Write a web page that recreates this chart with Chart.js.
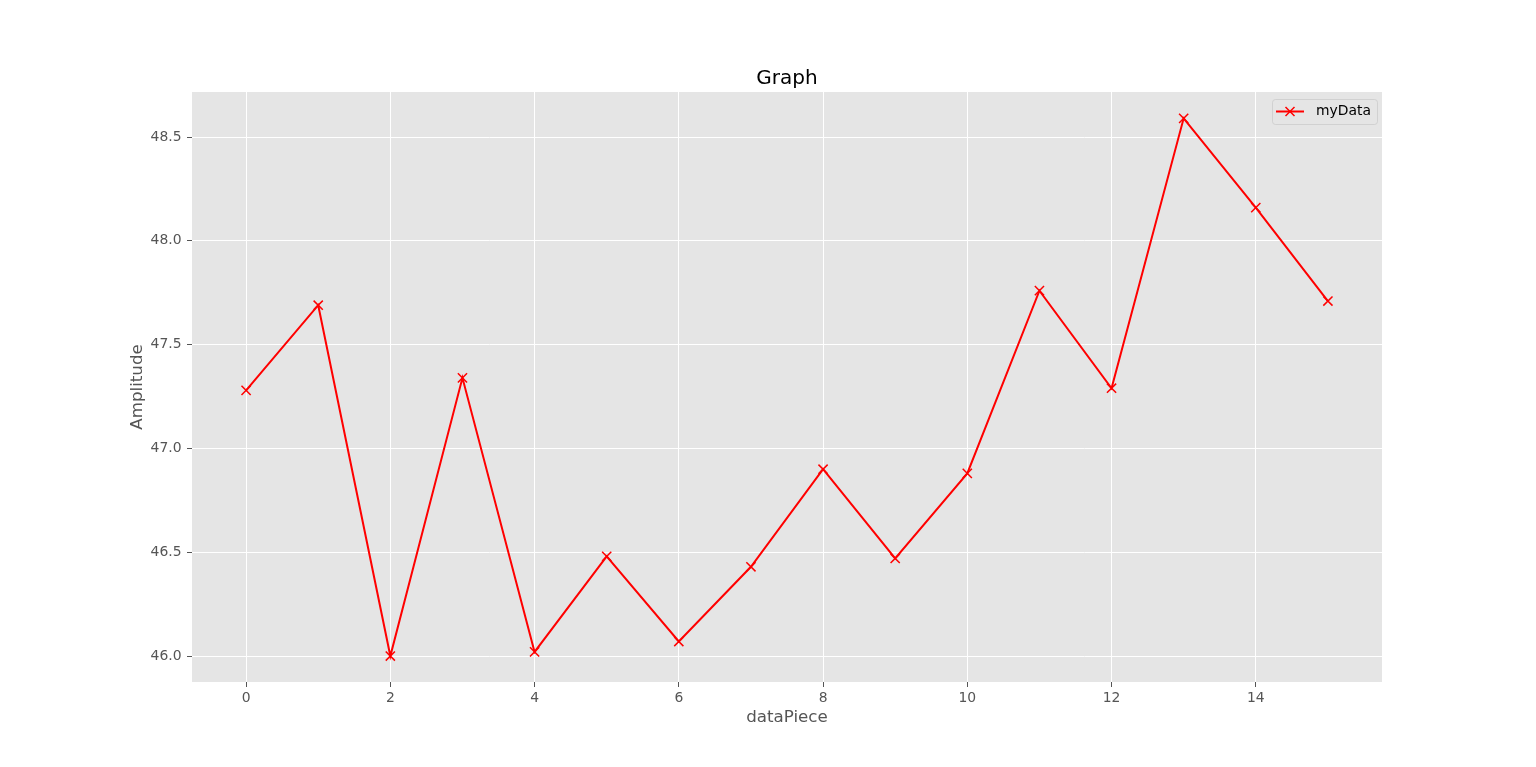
<!DOCTYPE html>
<html>
<head>
<meta charset="utf-8">
<title>Graph</title>
<script src="https://cdn.jsdelivr.net/npm/chart.js@4.4.0/dist/chart.umd.min.js"></script>
<style>
  html, body { margin: 0; padding: 0; background: #ffffff; }
  #wrap { width: 1536px; height: 767px; }
</style>
</head>
<body>
<div id="wrap"><canvas id="myChart" width="1536" height="767"></canvas></div>
<script>
// data
var pieces = [0, 1, 2, 3, 4, 5, 6, 7, 8, 9, 10, 11, 12, 13, 14, 15];
var amplitude = [47.28, 47.69, 46.00, 47.34, 46.02, 46.48, 46.07, 46.43,
                 46.90, 46.47, 46.88, 47.76, 47.29, 48.59, 48.16, 47.71];
var xTicks = [0, 2, 4, 6, 8, 10, 12, 14];
var yTicks = [46.0, 46.5, 47.0, 47.5, 48.0, 48.5];

var font = "'DejaVu Sans', sans-serif";

// grey panel behind the plot, ggplot style
var panelBg = {
  id: 'panelBg',
  beforeDraw: function(chart) {
    var a = chart.chartArea, ctx = chart.ctx;
    ctx.save();
    ctx.fillStyle = '#e5e5e5';
    ctx.fillRect(a.left, a.top, a.right - a.left, a.bottom - a.top);
    ctx.restore();
  }
};

// small legend box in the upper right corner of the plot
var cornerLegend = {
  id: 'cornerLegend',
  afterDatasetsDraw: function(chart) {
    var a = chart.chartArea, ctx = chart.ctx;
    var ds = chart.data.datasets[0];
    var w = 105, h = 25;
    var x = a.right - 5 - w, y = a.top + 7;
    ctx.save();
    ctx.beginPath();
    ctx.roundRect(x + 0.5, y + 0.5, w, h, 3);
    ctx.fillStyle = 'rgba(229,229,229,0.8)';
    ctx.fill();
    ctx.strokeStyle = 'rgba(204,204,204,0.8)';
    ctx.lineWidth = 1;
    ctx.stroke();

    var cy = y + h / 2;
    ctx.strokeStyle = ds.borderColor;
    ctx.lineWidth = 2;
    ctx.beginPath();
    ctx.moveTo(x + 4, cy);
    ctx.lineTo(x + 32, cy);
    ctx.stroke();
    ctx.lineWidth = 1.5;
    var m = 4.5;
    ctx.beginPath();
    ctx.moveTo(x + 18 - m, cy - m); ctx.lineTo(x + 18 + m, cy + m);
    ctx.moveTo(x + 18 - m, cy + m); ctx.lineTo(x + 18 + m, cy - m);
    ctx.stroke();

    ctx.fillStyle = '#000000';
    ctx.font = '13.9px ' + font;
    ctx.textBaseline = 'middle';
    ctx.textAlign = 'left';
    ctx.fillText(ds.label, x + 44, cy);
    ctx.restore();
  }
};

var points = pieces.map(function(p, i) { return { x: p, y: amplitude[i] }; });

var ctx = document.getElementById('myChart');
var myChart = new Chart(ctx, {
  type: 'line',
  data: {
    datasets: [{
      label: 'myData',
      data: points,
      borderColor: '#ff0000',
      backgroundColor: '#ff0000',
      borderWidth: 2,
      pointStyle: 'crossRot',
      pointRadius: 6.5,
      pointBorderWidth: 1.5,
      pointBorderColor: '#ff0000',
      tension: 0,
      fill: false
    }]
  },
  options: {
    responsive: false,
    animation: false,
    layout: {
      padding: { left: 0, right: 154, top: 0, bottom: 39 }
    },
    plugins: {
      legend: { display: false },
      tooltip: { enabled: false },
      title: {
        display: true,
        text: 'Graph',
        fullSize: false,
        color: '#000000',
        font: { family: font, size: 20, weight: 'normal', lineHeight: 1.2 },
        padding: { top: 67, bottom: 1 }
      }
    },
    scales: {
      x: {
        type: 'linear',
        min: -0.75,
        max: 15.75,
        afterBuildTicks: function(scale) {
          scale.ticks = xTicks.map(function(v) { return { value: v }; });
        },
        afterFit: function(scale) { scale.height = 46; },
        border: { display: false },
        grid: { color: '#ffffff', lineWidth: 1, tickLength: 5, tickColor: '#555555', tickWidth: 1 },
        ticks: {
          color: '#555555',
          padding: 3,
          maxRotation: 0,
          autoSkip: false,
          font: { family: font, size: 13.9 },
          callback: function(v) { return String(v); }
        },
        title: {
          display: true,
          text: 'dataPiece',
          color: '#555555',
          font: { family: font, size: 16.7, lineHeight: 1.2 },
          padding: 0
        }
      },
      y: {
        type: 'linear',
        min: 45.875,
        max: 48.717,
        afterBuildTicks: function(scale) {
          scale.ticks = yTicks.map(function(v) { return { value: v }; });
        },
        afterFit: function(scale) { scale.width = 192; },
        border: { display: false },
        grid: { color: '#ffffff', lineWidth: 1, tickLength: 5, tickColor: '#555555', tickWidth: 1 },
        ticks: {
          color: '#555555',
          padding: 5.5,
          font: { family: font, size: 13.9 },
          callback: function(v) { return v.toFixed(1); }
        },
        title: {
          display: true,
          text: 'Amplitude',
          color: '#555555',
          font: { family: font, size: 16.7, lineHeight: 1.2 },
          padding: { top: 127.7, bottom: 0 }
        }
      }
    }
  },
  plugins: [panelBg, cornerLegend]
});
</script>
</body>
</html>
